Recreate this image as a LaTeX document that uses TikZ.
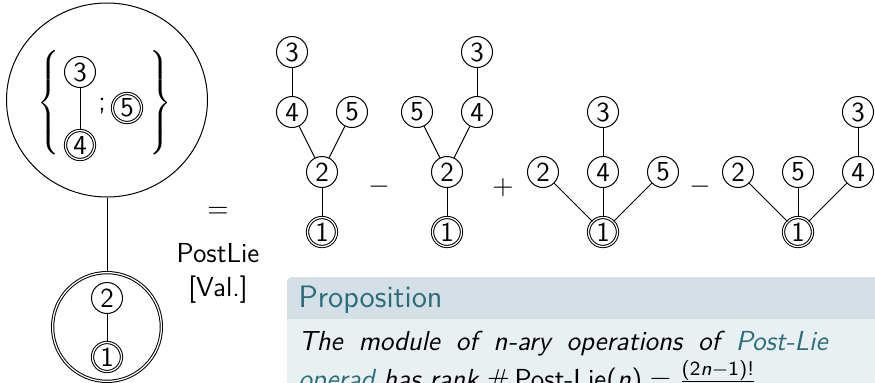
\documentclass[tikz,border=0pt]{standalone}
\usepackage{tikz}
\usetikzlibrary{shapes.geometric, positioning}

% sans-serif math, as on the slide
\DeclareMathVersion{sans}
\SetSymbolFont{operators}{sans}{OT1}{cmss}{m}{n}
\SetSymbolFont{letters}{sans}{OT1}{cmss}{m}{sl}

\definecolor{blockhead}{RGB}{212,224,229}
\definecolor{blockbody}{RGB}{233,240,242}
\definecolor{linkcol}{RGB}{41,110,124}

\newcommand{\slidefont}{\fontsize{11}{13.6}\selectfont\sffamily\mathversion{sans}}

\tikzstyle{vertex} = [
    circle,
    minimum size=12.4pt,
    inner sep=0.5pt,
    line width=0.4pt,
    draw=black
]
\tikzstyle{root} = [
    vertex,
    double,
    double distance=0.5pt,
    minimum size=11.6pt
]
\tikzstyle{bubble} = [
    ellipse,
    minimum width=80.4pt,
    minimum height=77.6pt,
    line width=0.4pt,
    draw=black
]
\tikzstyle{rootbubble} = [
    circle,
    double,
    double distance=0.5pt,
    minimum size=43.5pt,
    line width=0.4pt,
    draw=black
]
\tikzstyle{edge} = [line width=0.4pt]

\begin{document}
\begin{tikzpicture}[x=0.4pt, y=-0.4pt, node distance=24pt, on grid,
    every node/.style={font=\slidefont}]

\useasboundingbox (0,0) rectangle (875,382);

% grafted tree on the left
\node (lhs) [bubble] at (107,100) {};
\node (rhs) [rootbubble] at (107,327) {};

\node (l3) [vertex] at (80,72) {3};
\node (l4) [root] at (80,145) {4};
\node (semi) at (102,106) {;};
\node (l5) [root] at (127,108) {5};
\node (lbr) at (50,103)
{$\left\{\vrule height 25.2pt depth 19.8pt width 0pt\right.$};
\node (rbr) at (159,103)
{$\left.\vrule height 25.2pt depth 19.8pt width 0pt\right\}$};

\node (r2) [vertex] at (107,298) {2};
\node (r1) [root] at (107,357) {1};

\draw [edge] (lhs) -- (rhs);
\draw [edge] (l3) -- (l4);
\draw [edge] (r2) -- (r1);

\node (eq) at (218,212) {$=$};
\node (cite) [align=center] at (218,273) {PostLie\\{[Val.]}};

% first tree
\node (a1) [root] at (322,232) {1};
\node (a2) [vertex, above=of a1] {2};
\node (a4) [vertex, above left=24pt and 12pt of a2] {4};
\node (a5) [vertex, above right=24pt and 12pt of a2] {5};
\node (a3) [vertex, above=of a4] {3};

\draw [edge] (a1) -- (a2);
\draw [edge] (a2) -- (a4);
\draw [edge] (a2) -- (a5);
\draw [edge] (a4) -- (a3);

\node (minusA) at (379,187) {$-$};

% second tree
\node (b1) [root] at (447,232) {1};
\node (b2) [vertex, above=of b1] {2};
\node (b5) [vertex, above left=24pt and 12pt of b2] {5};
\node (b4) [vertex, above right=24pt and 12pt of b2] {4};
\node (b3) [vertex, above=of b4] {3};

\draw [edge] (b1) -- (b2);
\draw [edge] (b2) -- (b5);
\draw [edge] (b2) -- (b4);
\draw [edge] (b4) -- (b3);

\node (plusB) at (503,188) {$+$};

% third tree
\node (c1) [root] at (603,232) {1};
\node (c4) [vertex, above=of c1] {4};
\node (c2) [vertex, above left=24pt and 24pt of c1] {2};
\node (c5) [vertex, above right=24pt and 24pt of c1] {5};
\node (c3) [vertex, above=of c4] {3};

\draw [edge] (c1) -- (c2);
\draw [edge] (c1) -- (c4);
\draw [edge] (c1) -- (c5);
\draw [edge] (c4) -- (c3);

\node (minusC) at (700,187) {$-$};

% fourth tree
\node (d1) [root] at (798,232) {1};
\node (d5) [vertex, above=of d1] {5};
\node (d2) [vertex, above left=24pt and 24pt of d1] {2};
\node (d4) [vertex, above right=24pt and 24pt of d1] {4};
\node (d3) [vertex, above=of d4] {3};

\draw [edge] (d1) -- (d2);
\draw [edge] (d1) -- (d5);
\draw [edge] (d1) -- (d4);
\draw [edge] (d4) -- (d3);

% proposition block
\fill [blockbody, rounded corners=2pt] (287,277) rectangle (900,420);
\fill [blockhead, rounded corners=2pt] (287,277) rectangle (900,330);
\fill [blockbody] (287,319) rectangle (900,340);

\node (title) [anchor=base west, inner sep=0pt, text=linkcol,
    font=\fontsize{12.4}{15}\selectfont\sffamily] at (298,307) {Proposition};
\node (stmt) [anchor=north west, text width=211.6pt, align=justify,
    inner sep=0pt, font=\fontsize{11}{15}\selectfont\sffamily\mathversion{sans}\itshape]
    at (298,331)
{The module of $n$-ary operations of \textcolor{linkcol}{Post-Lie}
\textcolor{linkcol}{\mbox{operad}} has rank $\#\,\textup{Post-Lie}(n)
= \frac{(2n-1)!}{(n-1)!}$};

\end{tikzpicture}
\end{document}
